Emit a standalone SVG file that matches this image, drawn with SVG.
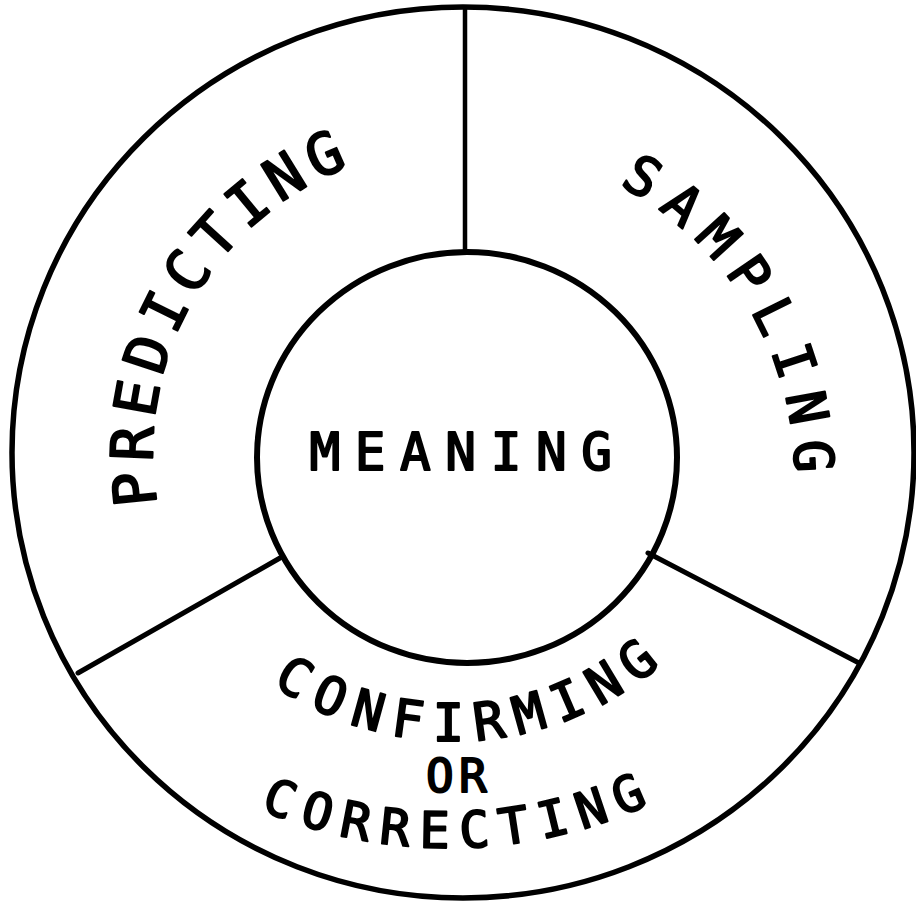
<svg xmlns="http://www.w3.org/2000/svg" width="916" height="902" viewBox="0 0 916 902">
<style>
.ring{fill:none;stroke:#000;stroke-linecap:round}
.div{stroke:#000;stroke-linecap:round;fill:none}
.lbl{font-family:"DejaVu Sans Mono","Liberation Mono",monospace;fill:#000;stroke:#000;stroke-width:2;stroke-linejoin:round}
</style>
<defs>
<path id="pPred" d="M 195.3 607.3 A 306 306 0 0 1 456.3 146.0"/>
<path id="pSamp" d="M 456.4 147.1 A 330 330 0 0 1 755.0 634.5"/>
<path id="pConf" d="M 186.0 595.0 A 319 319 0 0 0 737.8 567.6"/>
<path id="pCorr" d="M 177.4 764.2 A 482 482 0 0 0 730.2 757.4"/>
</defs>
<rect width="916" height="902" fill="#fff"/>
<g id="outer-ring">
<ellipse class="ring" cx="463" cy="452.5" rx="451" ry="445.5" stroke-width="5.5"/>
</g>
<g id="connectors">
<line class="div" x1="465" y1="9" x2="465" y2="252" stroke-width="4.5"/>
<line class="div" x1="280" y1="558" x2="78" y2="673" stroke-width="5"/>
<line class="div" x1="648" y1="553" x2="859" y2="663" stroke-width="5"/>
</g>
<g id="meaning">
<ellipse class="ring" cx="467" cy="457.5" rx="210" ry="205.5" stroke-width="6"/>
<text class="lbl" x="468" y="470" font-size="51" letter-spacing="14.6" text-anchor="middle">MEANING</text>
</g>
<g id="predicting">
<text class="lbl" font-size="58" letter-spacing="7.9" text-anchor="middle"><textPath href="#pPred" startOffset="324.4">PREDICTING</textPath></text>
</g>
<g id="sampling">
<text class="lbl" font-size="54" letter-spacing="13.5" text-anchor="middle"><textPath href="#pSamp" startOffset="352.3">SAMPLING</textPath></text>
</g>
<g id="confirming">
<text class="lbl" font-size="52" letter-spacing="11.7" text-anchor="middle"><textPath href="#pConf" startOffset="339.9">CONFIRMING</textPath></text>
<text class="lbl" x="459" y="792" font-size="46" letter-spacing="5.3" text-anchor="middle">OR</text>
<text class="lbl" font-size="50" letter-spacing="11" text-anchor="middle"><textPath href="#pCorr" startOffset="299.9">CORRECTING</textPath></text>
</g>
</svg>
